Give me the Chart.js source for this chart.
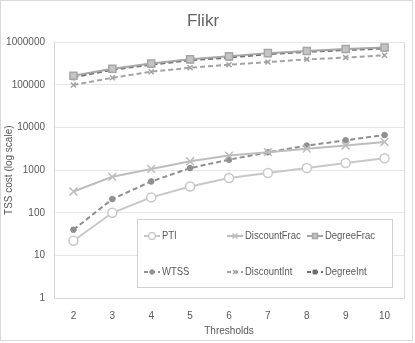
<!DOCTYPE html>
<html>
<head>
<meta charset="utf-8">
<script src="https://cdn.jsdelivr.net/npm/chart.js@4/dist/chart.umd.min.js"></script>
<style>
html,body{margin:0;padding:0;background:#fff;}
#wrap{width:415px;height:343px;}
</style>
</head>
<body>
<div id="wrap"><canvas id="c" width="415" height="343"></canvas></div>
<script>
const thresholds = ['2','3','4','5','6','7','8','9','10'];
const seriesNames = ['PTI','DiscountFrac','DegreeFrac','WTSS','DiscountInt','DegreeInt'];
const ptiValues = [22, 100, 230, 415, 655, 860, 1130, 1480, 1900];
const discountFracValues = [316, 700, 1070, 1620, 2200, 2650, 3200, 3800, 4600];
const degreeFracValues = [165000, 240000, 320000, 400000, 470000, 560000, 630000, 700000, 760000];
const wtssValues = [40, 210, 545, 1120, 1770, 2630, 3780, 5030, 6700];
const discountIntValues = [100000, 148000, 205000, 254000, 300000, 345000, 400000, 440000, 500000];
const degreeIntValues = [152000, 228000, 300000, 380000, 440000, 530000, 600000, 660000, 720000];
const yTickValues = [1, 10, 100, 1000, 10000, 100000, 1000000];

const FONT = "'Liberation Sans Narrow', 'Liberation Sans', sans-serif";
const TXT = '#595959';

const styles = [
  {color:'#c8c8c8', dash:[], point:'circle', r:4.5, fill:'#ffffff', bw:1.5},
  {color:'#bdbdbd', dash:[], point:'crossRot', r:5.5, fill:'#bdbdbd', bw:1.5},
  {color:'#a6a6a6', dash:[], point:'rect', r:5, fill:'#c4c4c4', bw:1.5},
  {color:'#8f8f8f', dash:[5,3], point:'circle', r:2.8, fill:'#8f8f8f', bw:1},
  {color:'#a3a3a3', dash:[5,3], point:'crossRot', r:3.5, fill:'#a3a3a3', bw:1.5},
  {color:'#6e6e6e', dash:[5,3], point:'rect', r:3.5, fill:'#6e6e6e', bw:1}
];
const values = [ptiValues, discountFracValues, degreeFracValues, wtssValues, discountIntValues, degreeIntValues];

const datasets = seriesNames.map((n,i)=>({
  label:n,
  data:values[i],
  borderColor:styles[i].color,
  backgroundColor:styles[i].fill,
  borderWidth:2,
  borderDash:styles[i].dash,
  pointStyle:styles[i].point,
  pointRadius:styles[i].r,
  pointBorderWidth:styles[i].bw,
  pointBorderColor:styles[i].color,
  pointBackgroundColor:styles[i].fill,
  tension:0,
  fill:false
}));

const framePlugin = {
  id:'frame',
  beforeDraw(chart){
    const c = chart.ctx;
    c.save();
    c.strokeStyle = '#d9d9d9';
    c.lineWidth = 1;
    c.strokeRect(0.5, 0.5, 412, 340);
    c.restore();
  },
  afterDatasetsDraw(chart){
    const c = chart.ctx, a = chart.chartArea;
    c.save();
    c.strokeStyle = '#d9d9d9';
    c.lineWidth = 1;
    c.beginPath();
    c.moveTo(Math.round(a.right)+0.5, a.top);
    c.lineTo(Math.round(a.right)+0.5, a.bottom);
    c.stroke();
    // legend box
    const x0 = 137.5, y0 = 219.5, w = 255, h = 68;
    c.fillStyle = '#ffffff';
    c.fillRect(x0, y0, w, h);
    c.strokeStyle = '#d0d0d0';
    c.strokeRect(x0, y0, w, h);
    const cols = [144, 227, 307];
    const rows = [236, 272];
    chart.data.datasets.forEach((ds,i)=>{
      const col = i % 3, row = Math.floor(i / 3);
      const lx = cols[col], ly = rows[row];
      c.save();
      c.strokeStyle = ds.borderColor;
      c.lineWidth = 2;
      c.setLineDash(ds.borderDash.length ? [4,3] : []);
      c.beginPath();
      c.moveTo(lx, ly);
      c.lineTo(lx + 16, ly);
      c.stroke();
      c.setLineDash([]);
      c.fillStyle = ds.pointBackgroundColor;
      c.strokeStyle = ds.pointBorderColor;
      c.lineWidth = ds.pointBorderWidth;
      Chart.helpers.drawPoint(c, {
        pointStyle: ds.pointStyle,
        radius: Math.min(ds.pointRadius * 0.8, 3.5),
        borderWidth: ds.pointBorderWidth,
        rotation: 0
      }, lx + 8, ly);
      c.restore();
      c.save();
      c.font = '11px ' + FONT;
      c.textBaseline = 'middle';
      c.textAlign = 'left';
      c.fillStyle = TXT;
      c.translate(lx + 18, ly);
      c.scale(0.86, 1);
      c.fillText(ds.label, 0, 0);
      c.restore();
    });
    c.restore();
  }
};

new Chart(document.getElementById('c'), {
  type:'line',
  data:{labels:thresholds, datasets},
  plugins:[framePlugin],
  options:{
    responsive:false,
    animation:false,
    layout:{padding:{left:2, right:11, top:8, bottom:4}},
    plugins:{
      legend:{display:false},
      tooltip:{enabled:false},
      title:{
        display:true,
        text:'Flikr',
        color:'#666666',
        font:{family:FONT, size:17, weight:'normal'},
        padding:{top:3, bottom:11}
      }
    },
    scales:{
      x:{
        type:'category',
        offset:true,
        grid:{display:false, drawTicks:false},
        border:{display:true, color:'#d9d9d9'},
        ticks:{color:TXT, font:{family:FONT, size:10}, padding:12, maxRotation:0},
        title:{display:true, text:'Thresholds', color:TXT, font:{family:FONT, size:10}, padding:{top:0, bottom:2}},
        afterFit(s){ s.height = 41; }
      },
      y:{
        type:'logarithmic',
        min:1,
        max:1000000,
        grid:{color:'#e6e6e6', drawTicks:false},
        border:{display:true, color:'#d9d9d9'},
        afterBuildTicks(s){ s.ticks = yTickValues.map(v=>({value:v})); },
        ticks:{color:TXT, font:{family:FONT, size:10}, padding:9, callback:(v)=>String(v)},
        title:{display:true, text:'TSS cost (log scale)', color:TXT, font:{family:FONT, size:10}, padding:{top:1, bottom:0}},
        afterFit(s){ s.width = 52; }
      }
    }
  }
});
</script>
</body>
</html>
